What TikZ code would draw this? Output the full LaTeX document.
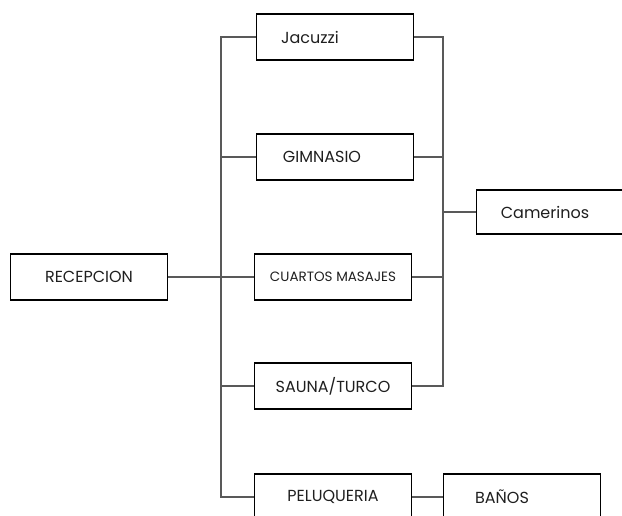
\documentclass[tikz,border=0pt]{standalone}
\usepackage{fontspec}
\setmainfont{Poppins}
\usepackage{tikz}

\begin{document}
\begin{tikzpicture}[x=1pt,y=-1pt,
    area/.style={draw=black, line width=1.8pt, minimum width=157pt, minimum height=46pt,
                 inner sep=0pt, text=black!88, font=\fontsize{16}{18}\selectfont},
    padleft/.style={execute at end node={\hspace*{#1}}},
    link/.style={draw=black!65, line width=1.3pt}]
    \useasboundingbox (0,0) rectangle (622,516);

    \node[area] (rec) at (89,277) {RECEPCION};
    \node[area, padleft=50pt] (jac) at (335,37) {Jacuzzi};
    \node[area, padleft=26pt] (gim) at (335,157) {GIMNASIO};
    \node[area, font=\fontsize{13.5}{15}\selectfont] (cua) at (333,277) {CUARTOS MASAJES};
    \node[area] (sau) at (333,386) {SAUNA/TURCO};
    \node[area] (pel) at (333,497) {PELUQUERIA};
    \node[area, minimum height=44pt, padleft=20pt] (cam) at (555,212) {Camerinos};
    \node[area, padleft=40pt] (ban) at (522,497) {BAÑOS};

    \coordinate (busl) at (221,277);
    \coordinate (busr) at (443,212);

    \draw[link] (rec.east) -- (cua.west);
    \draw[link] (jac.west) -| (busl) |- (pel.west);
    \draw[link] (gim.west) -- (gim.west -| busl);
    \draw[link] (sau.west) -- (sau.west -| busl);

    \draw[link] (jac.east) -| (busr) |- (sau.east);
    \draw[link] (gim.east) -- (gim.east -| busr);
    \draw[link] (cua.east) -- (cua.east -| busr);
    \draw[link] (busr) -- (cam.west);

    \draw[link] (pel.east) -- (ban.west);
\end{tikzpicture}
\end{document}
